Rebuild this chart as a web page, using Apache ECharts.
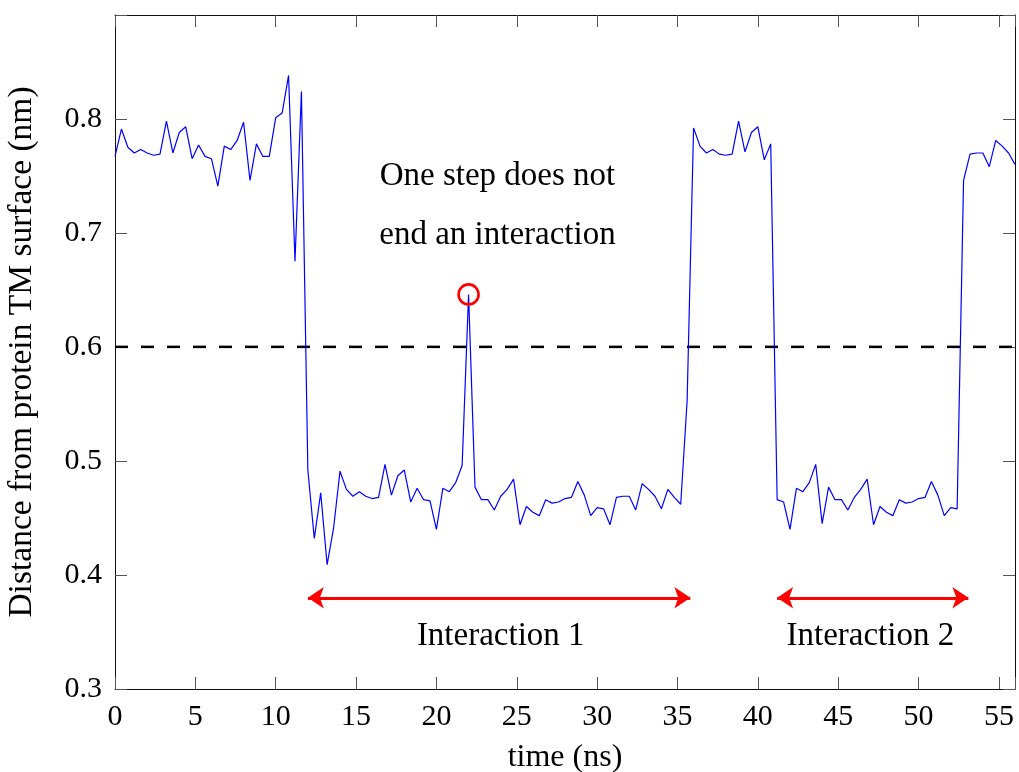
<!DOCTYPE html>
<html>
<head>
<meta charset="utf-8">
<script src="https://cdn.jsdelivr.net/npm/echarts@6/dist/echarts.min.js"></script>
<style>
  html, body { margin: 0; padding: 0; background: #fff; }
  #chart { width: 1019px; height: 772px; }
</style>
</head>
<body>
<div id="chart"></div>
<script>
// Sampling times (ns)
const time = [
  0, 0.4, 0.8, 1.2, 1.6, 2, 2.4, 2.8, 3.2, 3.6,
  4, 4.4, 4.8, 5.2, 5.6, 6, 6.4, 6.8, 7.2, 7.6,
  8, 8.4, 8.8, 9.2, 9.6, 10, 10.4, 10.8, 11.2, 11.6,
  12, 12.4, 12.8, 13.2, 13.6, 14, 14.4, 14.8, 15.2, 15.6,
  16, 16.4, 16.8, 17.2, 17.6, 18, 18.4, 18.8, 19.2, 19.6,
  20, 20.4, 20.8, 21.2, 21.6, 22, 22.4, 22.8, 23.2, 23.6,
  24, 24.4, 24.8, 25.2, 25.6, 26, 26.4, 26.8, 27.2, 27.6,
  28, 28.4, 28.8, 29.2, 29.6, 30, 30.4, 30.8, 31.2, 31.6,
  32, 32.4, 32.8, 33.2, 33.6, 34, 34.4, 34.8, 35.2, 35.6,
  36, 36.4, 36.8, 37.2, 37.6, 38, 38.4, 38.8, 39.2, 39.6,
  40, 40.4, 40.8, 41.2, 41.6, 42, 42.4, 42.8, 43.2, 43.6,
  44, 44.4, 44.8, 45.2, 45.6, 46, 46.4, 46.8, 47.2, 47.6,
  48, 48.4, 48.8, 49.2, 49.6, 50, 50.4, 50.8, 51.2, 51.6,
  52, 52.4, 52.8, 53.2, 53.6, 54, 54.4, 54.8, 55.2, 55.6,
  56
];

// Distance from the protein TM surface (nm)
const distance = [
  0.767, 0.791, 0.775, 0.770, 0.773, 0.770, 0.768, 0.769, 0.798, 0.770,
  0.788, 0.793, 0.765, 0.777, 0.767, 0.765, 0.741, 0.776, 0.773, 0.781,
  0.797, 0.746, 0.778, 0.767, 0.767, 0.801, 0.805, 0.838, 0.675, 0.824,
  0.492, 0.432, 0.472, 0.409, 0.441, 0.491, 0.475, 0.469, 0.473, 0.469,
  0.467, 0.468, 0.497, 0.470, 0.487, 0.492, 0.464, 0.476, 0.466, 0.465,
  0.440, 0.476, 0.473, 0.481, 0.496, 0.646, 0.477, 0.466, 0.466, 0.457,
  0.469, 0.475, 0.484, 0.444, 0.460, 0.455, 0.452, 0.466, 0.463, 0.464,
  0.467, 0.468, 0.482, 0.470, 0.452, 0.459, 0.458, 0.444, 0.468, 0.469,
  0.469, 0.457, 0.480, 0.475, 0.469, 0.458, 0.475, 0.468, 0.462, 0.553,
  0.792, 0.776, 0.770, 0.773, 0.769, 0.768, 0.769, 0.798, 0.771, 0.788,
  0.793, 0.764, 0.778, 0.466, 0.464, 0.440, 0.476, 0.473, 0.481, 0.497,
  0.445, 0.477, 0.466, 0.466, 0.457, 0.468, 0.475, 0.484, 0.444, 0.460,
  0.455, 0.452, 0.466, 0.463, 0.464, 0.467, 0.468, 0.482, 0.470, 0.452,
  0.459, 0.458, 0.746, 0.769, 0.770, 0.770, 0.758, 0.781, 0.776, 0.770,
  0.760
];

// Interaction threshold line
const thresholdX = [0, 56];
const thresholdY = 0.6;

// Highlighted single step above the threshold
const markedPoint = [22, 0.646];

// Interaction intervals [start, end] (ns), drawn as double arrows
const intervals = [[12, 35.8], [41.2, 53.1]];
const intervalLevel = 0.38;

// Annotation texts with their anchor [time, distance]
const notes = [
  { text: 'One step does not\nend an interaction', at: [23.8, 0.724] },
  { text: 'Interaction 1', at: [24, 0.346] },
  { text: 'Interaction 2', at: [47, 0.346] }
];

// Axis settings
const xRange = [0, 56];
const xStep = 5;
const yRange = [0.3, 0.891];
const yStep = 0.1;

const FONT = 'Liberation Serif';
const INK = '#000';

const chart = echarts.init(document.getElementById('chart'), null, { renderer: 'canvas' });

const boxLine = { show: true, onZero: false, lineStyle: { color: '#111', width: 1 } };
const innerTick = { show: true, inside: true, length: 12, lineStyle: { color: '#555', width: 1 } };

const xLabelFmt = v => (Math.abs(v / xStep - Math.round(v / xStep)) < 1e-6 ? String(v) : '');
const yLabelFmt = v => (Math.abs(v / yStep - Math.round(v / yStep)) < 1e-6 ? v.toFixed(1) : '');

const option = {
  animation: false,
  backgroundColor: '#fff',
  grid: { left: 115, right: 4, top: 15, bottom: 83, containLabel: false, outerBoundsMode: 'none' },
  xAxis: [
    {
      type: 'value', position: 'bottom',
      min: xRange[0], max: xRange[1], interval: xStep,
      name: 'time (ns)', nameLocation: 'middle', nameGap: 53,
      nameTextStyle: { fontFamily: FONT, fontSize: 32, color: INK },
      axisLine: boxLine, axisTick: innerTick,
      axisLabel: { formatter: xLabelFmt, fontFamily: FONT, fontSize: 30, color: INK, margin: 13 },
      splitLine: { show: false }
    },
    {
      type: 'value', position: 'top',
      min: xRange[0], max: xRange[1], interval: xStep,
      axisLine: boxLine, axisTick: innerTick,
      axisLabel: { show: false }, splitLine: { show: false }
    }
  ],
  yAxis: [
    {
      type: 'value', position: 'left',
      min: yRange[0], max: yRange[1], interval: yStep,
      name: 'Distance from protein TM surface (nm)', nameLocation: 'middle', nameGap: 76,
      nameTextStyle: { fontFamily: FONT, fontSize: 33.5, color: INK },
      axisLine: boxLine, axisTick: innerTick,
      axisLabel: { formatter: yLabelFmt, fontFamily: FONT, fontSize: 30, color: INK, margin: 13 },
      splitLine: { show: false }
    },
    {
      type: 'value', position: 'right',
      min: yRange[0], max: yRange[1], interval: yStep,
      axisLine: boxLine, axisTick: innerTick,
      axisLabel: { show: false }, splitLine: { show: false }
    }
  ],
  series: [
    {
      name: 'distance',
      type: 'line',
      data: time.map((t, i) => [t, distance[i]]),
      showSymbol: false, symbol: 'none',
      lineStyle: { color: '#0000ff', width: 1.2 },
      z: 3
    },
    {
      name: 'threshold',
      type: 'line',
      data: thresholdX.map(t => [t, thresholdY]),
      symbol: 'none',
      lineStyle: { color: '#000', width: 2.5, type: [13, 13] },
      z: 2
    },
    {
      name: 'step',
      type: 'scatter',
      data: [markedPoint],
      symbol: 'circle', symbolSize: 20,
      itemStyle: { color: 'rgba(0,0,0,0)', borderColor: '#ff0000', borderWidth: 2.6, opacity: 1 },
      z: 4
    },
    {
      name: 'intervals',
      type: 'line',
      data: [],
      markLine: {
        silent: true,
        symbol: ['arrow', 'arrow'],
        symbolSize: 16,
        label: { show: false },
        lineStyle: { color: '#ff0000', width: 3, type: 'solid' },
        data: intervals.map(([a, b]) => [
          { coord: [a, intervalLevel] },
          { coord: [b, intervalLevel] }
        ])
      }
    },
    {
      name: 'notes',
      type: 'scatter',
      data: notes.map(n => ({ name: n.text, value: n.at })),
      symbolSize: 1,
      itemStyle: { color: 'rgba(0,0,0,0)', opacity: 1 },
      label: {
        show: true, position: 'inside', formatter: '{b}',
        fontFamily: FONT, fontSize: 33, color: INK, lineHeight: 59, align: 'center'
      },
      z: 5
    }
  ]
};

chart.setOption(option);
</script>
</body>
</html>
